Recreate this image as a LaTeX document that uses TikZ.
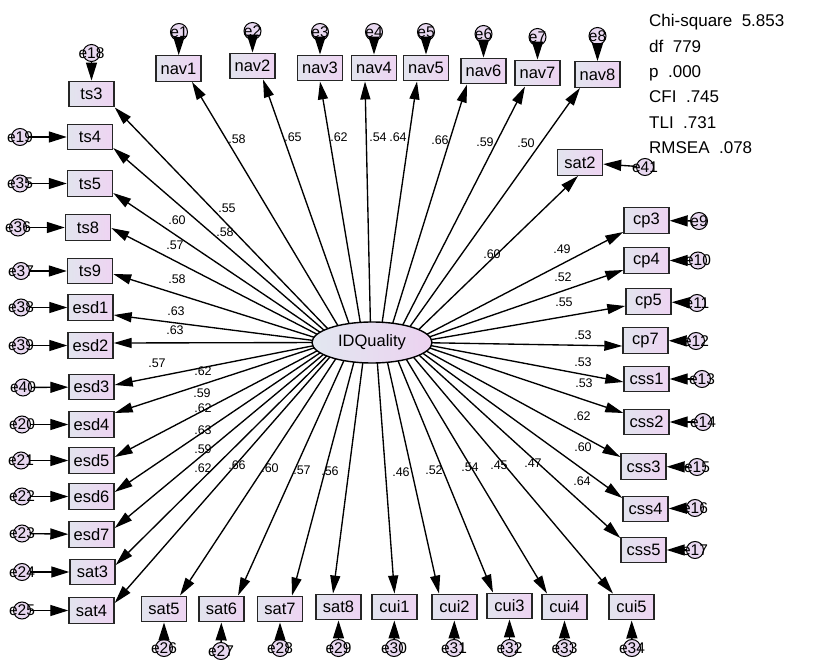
\documentclass[tikz,border=0pt]{standalone}
\usepackage{fontspec}
\setmainfont{Liberation Sans}
\usetikzlibrary{arrows.meta,shapes.geometric,calc}

\definecolor{boxL}{RGB}{226,228,238}
\definecolor{boxR}{RGB}{238,212,242}
\definecolor{latL}{RGB}{226,231,240}
\definecolor{latR}{RGB}{236,210,240}
\definecolor{errF}{RGB}{232,216,240}

\newcommand{\elab}[1]{\makebox[0pt]{#1}}

\tikzset{
  obs/.style={draw=black!85, line width=1.4pt, minimum width=45pt, minimum height=25.5pt,
    inner sep=0pt, left color=boxL, right color=boxR, font=\fontsize{16.5}{16.5}\selectfont},
  errc/.style={circle, draw=black, line width=1pt, minimum size=17pt, inner sep=0pt,
    fill=errF, font=\fontsize{15.5}{15.5}\selectfont},
  latent/.style={ellipse, draw=black, line width=1.4pt, minimum width=120pt, minimum height=41pt,
    inner sep=0pt, left color=latL, right color=latR, font=\fontsize{16.5}{16.5}\selectfont},
  load/.style={-{Triangle[length=18pt,width=10pt]}, line width=1.35pt},
  eload/.style={-{Triangle[length=18pt,width=11pt]}, line width=1.35pt},
  coef/.style={inner sep=0pt, font=\fontsize{12.5}{12.5}\selectfont},
  fit stat/.style={inner sep=0pt, anchor=base west, font=\fontsize{17}{17}\selectfont},
}

\begin{document}
\begin{tikzpicture}[x=1pt, y=-1pt]
\fill[white] (0,0) rectangle (830,660);
\useasboundingbox (0,0) rectangle (830,660);

% latent factor
\node[latent] (IDQ) at (372,342.5) {IDQuality};

% indicators
\foreach \nm/\px/\py in {
  ts3/91.5/94, nav1/178.5/68.5, nav2/252.5/66, nav3/320/68, nav4/374/68, nav5/426/68,
  nav6/483.5/71, nav7/537.5/73, nav8/597.5/74.5,
  ts4/90/137, ts5/90/183.5, ts8/88/227.5, ts9/90/271, esd1/90.5/307.5, esd2/90.5/345.5,
  esd3/91.5/387, esd4/91.5/424.5, esd5/91.5/460.5, esd6/91.5/496.5, esd7/91.5/534.5,
  sat3/92.5/572, sat4/91.5/610.5,
  sat5/164/609, sat6/221.5/609, sat7/280/609, sat8/338.5/607, cui1/394.5/607,
  cui2/454.5/607, cui3/509.5/606, cui4/564.5/607, cui5/631.5/607,
  sat2/580/162.5, cp3/646.5/220.5, cp4/646.5/260.5, cp5/648.5/301.5, cp7/645.5/340.5,
  css1/646.5/379, css2/646.5/422, css3/643.5/466.5, css4/645.5/509, css5/643.5/550}
  \node[obs] (\nm) at (\px,\py) {\nm};

% error terms
\foreach \en/\px/\py in {
  e1/179/32, e2/252.5/31, e3/320/32, e4/374/32, e5/426/32, e6/483.5/34, e7/537.5/37,
  e8/597.5/36, e18/91.5/53,
  e19/20/137, e35/20/183.5, e36/18/227.5, e37/21/271, e38/21/307.5, e39/21/345.5,
  e40/23/387.5, e20/22/424.5, e21/21/460.5, e22/22/496.5, e23/22/533.5, e24/22/572,
  e25/22/610.5,
  e26/164/648, e27/221/651, e28/280/648, e29/338.5/648, e30/394/648, e31/454/648,
  e32/509.5/648, e33/564.5/648, e34/632/648,
  e41/645/167, e9/699/221, e10/698/260.5, e11/697/303, e12/696/341, e13/702/379,
  e14/703/422, e15/697/467, e16/695/508, e17/695/550}
  \node[errc] (\en) at (\px,\py) {\elab{\en}};

% error -> indicator paths
\foreach \src/\dst in {
  e1/nav1, e2/nav2, e3/nav3, e4/nav4, e5/nav5, e6/nav6, e7/nav7, e8/nav8, e18/ts3,
  e19/ts4, e35/ts5, e36/ts8, e37/ts9, e38/esd1, e39/esd2, e40/esd3, e20/esd4,
  e21/esd5, e22/esd6, e23/esd7, e24/sat3, e25/sat4,
  e26/sat5, e27/sat6, e28/sat7, e29/sat8, e30/cui1, e31/cui2, e32/cui3, e33/cui4, e34/cui5,
  e41/sat2, e9/cp3, e10/cp4, e11/cp5, e12/cp7, e13/css1, e14/css2, e15/css3, e16/css4, e17/css5}
  \draw[eload] (\src) -- (\dst);

% factor loadings: each arrow lands on a given point of its indicator's border
% and leaves the factor ellipse at the matching elliptic angle
\foreach \bx/\anc/\dx/\dy in {
  ts3/south east/0/0, nav1/south/13.5/0, nav2/south/10.5/0, nav3/south/0/0,
  nav4/south/-9/0, nav5/south/-9/0, nav6/south/-16.5/0, nav7/south/-12.5/0,
  nav8/south/-17.5/0,
  ts4/east/0/11, ts5/east/0/9.5, ts8/east/0/0.5, ts9/east/0/3, esd1/east/0/7.5,
  esd2/east/0/-2.5, esd3/east/0/-2, esd4/east/0/-11.5, esd5/east/0/-3.5,
  esd6/east/0/-4.5, esd7/east/0/-6.5, sat3/east/0/-7, sat4/east/0/-7.5,
  sat5/north/16/0, sat6/north/16.5/0, sat7/north/12/0, sat8/north/-5.5/0,
  cui1/north/0/0, cui2/north/-15.5/0, cui3/north/-16.5/0, cui4/north/-17.5/0,
  cui5/north/-18.5/0,
  sat2/south/-2/0, cp3/west/0/11.5, cp4/west/0/9.5, cp5/west/0/4.5, cp7/west/0/5.5,
  css1/west/0/3, css2/west/0/-9, css3/west/0/-9.5, css4/west/0/-11, css5/west/0/-12}
  \draw[load] let \p1=($([shift={(\dx,\dy)}]\bx.\anc)-(IDQ.center)$), \n1={atan2(\y1,\x1)} in
    ([shift={(\n1:60pt and 20.5pt)}]IDQ.center) -- ([shift={(\dx,\dy)}]\bx.\anc);

% standardized loading values
\foreach \px/\py/\val [count=\i] in {
  237/139/.58, 293/137/.65, 339/137/.62, 378/137/.54, 398/137/.64, 440/140/.66,
  485/142/.59, 526/143/.50, 492/254/.60,
  227/208/.55, 225/232/.58, 177/220/.60, 175/245/.57, 177/279/.58, 176/311/.63,
  175/330/.63, 157/363/.57, 203/371/.62, 202/393/.59, 203/408/.62, 203/430/.63,
  203/449/.59, 203/468/.62, 237/465/.66, 270/468/.60, 302/470/.57, 330/471/.56,
  401/472/.46, 434/470/.52, 470/467/.54, 499/465/.45, 533/463/.47,
  562/249/.49, 563/277/.52, 564/302/.55, 583/335/.53, 583/362/.53, 584/383/.53,
  582/416/.62, 583/447/.60, 582/481/.64}
  \node[coef] (c\i) at (\px,\py) {\val};

% model fit statistics
\node[fit stat] (chisq) at (649,26.7) {Chi-square\ \ 5.853};
\node[fit stat] (dfv)   at (649,52.1) {df\ \ 779};
\node[fit stat] (pv)    at (649,77.5) {p\ \ .000};
\node[fit stat] (cfi)   at (649,102.9) {CFI\ \ .745};
\node[fit stat] (tli)   at (649,128.3) {TLI\ \ .731};
\node[fit stat] (rmsea) at (649,153.7) {RMSEA\ \ .078};
\end{tikzpicture}
\end{document}
